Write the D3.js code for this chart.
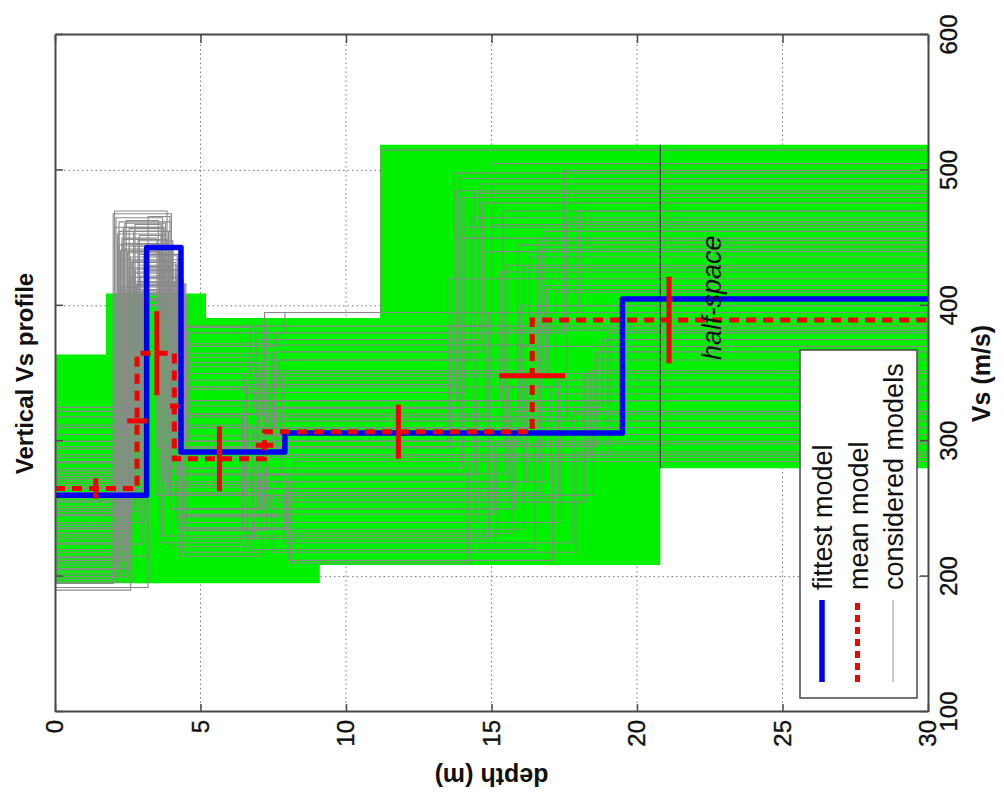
<!DOCTYPE html>
<html>
<head>
<meta charset="utf-8">
<script src="https://cdn.jsdelivr.net/npm/d3@7"></script>
<style>
  body { margin: 0; background: #fff; }
  svg { display: block; }
</style>
</head>
<body>
<svg id="chart" width="1004" height="794"></svg>
<script>
// ---- data -------------------------------------------------------------
const vsTicks = [100, 200, 300, 400, 500, 600];
const depthTicks = [0, 5, 10, 15, 20, 25, 30];

// best-fitting model: interface depths (m) and layer shear velocities (m/s)
const fittestInterfaces = [3.15, 4.33, 7.9, 19.5];
const fittestVs = [260, 443, 292, 306, 405];

// mean model
const meanInterfaces = [2.82, 4.1, 7.2, 16.4];
const meanVs = [265, 365, 287, 307, 389.5];

// uncertainty of the mean model
const vsErrDepth = [1.4, 3.5, 5.65, 11.8, 21.1];   // depth where each Vs bar is drawn
const vsErrHalf = [7.5, 31, 24, 20, 32];           // +/- Vs
const depthErrHalf = [0.34, 0.15, 0.3, 1.13];      // +/- depth of each interface

// range explored by the inversion (shaded band)
const envelopeTopDepth = [0, 1.75, 5.19, 11.17, 30];
const envelopeTopVs = [364, 409, 391, 519];
const envelopeBottomDepth = [0, 9.1, 20.8, 30];
const envelopeBottomVs = [195, 208.5, 280];

const halfSpaceDepth = 20.8;

// considered models: interface depths and layer velocities
const consideredInterfaces = [
  [2.0, 4.0, 7.2, 14.0], [2.2, 4.0, 6.8, 15.5], [2.5, 3.6, 7.5, 16.0], [2.7, 3.9, 6.5, 13.8],
  [2.9, 4.2, 7.8, 17.0], [3.1, 4.4, 8.0, 18.5], [2.4, 3.8, 7.0, 15.0], [2.8, 4.5, 7.3, 14.5],
  [2.1, 3.7, 6.7, 16.5], [3.0, 4.1, 7.6, 17.5], [2.6, 4.3, 7.1, 13.5], [3.2, 4.6, 6.9, 16.2],
  [2.3, 3.5, 7.4, 15.8], [2.75, 4.0, 7.9, 18.0], [2.9, 4.25, 6.6, 14.8], [2.45, 3.9, 7.7, 16.8],
  [3.05, 4.45, 7.2, 11.2], [2.2, 3.6, 6.4, 15.2], [2.65, 4.15, 7.35, 17.2], [2.35, 3.75, 8.1, 14.2],
  [3.15, 4.35, 7.0, 19.0], [2.55, 3.95, 7.55, 16.4], [2.85, 4.05, 6.75, 15.6], [2.05, 3.85, 7.15, 13.9],
  [3.0, 4.5, 7.85, 17.8], [2.6, 3.7, 6.95, 14.6], [2.95, 4.2, 7.45, 16.0], [2.3, 4.4, 7.65, 18.2],
  [2.75, 3.65, 6.6, 15.3], [3.1, 4.3, 8.2, 16.6], [2.4, 4.05, 7.25, 14.3], [2.7, 4.55, 6.85, 17.4],
  [3.2, 3.95, 7.0, 15.9], [2.15, 4.25, 7.8, 16.9], [2.9, 3.8, 7.5, 13.6], [2.5, 4.1, 6.55, 17.0],
  [2.2, 4.0, 7.05, 14.4], [2.9, 4.35, 6.45, 16.1], [2.55, 3.6, 7.6, 18.8], [3.05, 4.2, 6.9, 15.0],
  [2.3, 3.9, 7.3, 15.4], [2.6, 4.2, 7.9, 16.7], [2.05, 3.7, 6.8, 14.9], [2.8, 4.45, 7.15, 17.6],
  [3.1, 4.0, 6.6, 13.7], [2.45, 3.55, 7.7, 18.4], [2.95, 4.3, 7.4, 16.3], [2.35, 3.85, 6.95, 15.1],
  [2.7, 4.15, 8.05, 17.1], [3.15, 4.5, 7.55, 14.7], [2.5, 3.75, 6.7, 16.9], [2.85, 4.35, 7.25, 18.6],
  [2.15, 3.65, 7.95, 15.7], [2.65, 4.05, 6.5, 14.1], [3.0, 4.4, 7.1, 17.3], [2.4, 3.8, 7.8, 16.1],
  [2.75, 4.25, 6.85, 13.9], [2.25, 3.95, 7.45, 17.9], [3.05, 4.55, 7.65, 15.5], [2.55, 3.7, 6.75, 16.6]
];
const consideredVs = [
  [195, 468, 250, 280, 480], [210, 462, 300, 310, 430], [230, 440, 330, 300, 400], [250, 455, 260, 330, 485],
  [270, 430, 350, 290, 390], [240, 420, 240, 260, 360], [220, 412, 280, 350, 460], [300, 416, 320, 240, 330],
  [205, 465, 230, 220, 300], [325, 395, 370, 380, 500], [190, 405, 215, 300, 420], [215, 380, 300, 270, 350],
  [235, 450, 260, 250, 310], [255, 425, 380, 395, 470], [280, 438, 290, 320, 440], [200, 410, 340, 360, 455],
  [265, 400, 300, 395, 515], [245, 445, 225, 230, 290], [260, 432, 310, 340, 410], [225, 458, 270, 210, 285],
  [285, 418, 250, 290, 380], [208, 428, 355, 310, 395], [240, 448, 280, 265, 340], [198, 470, 320, 345, 450],
  [310, 408, 235, 225, 320], [228, 436, 295, 375, 490], [272, 422, 365, 300, 370], [218, 414, 245, 255, 350],
  [252, 460, 340, 330, 425], [290, 426, 260, 285, 400], [212, 442, 385, 360, 465], [262, 404, 228, 240, 305],
  [192, 466, 310, 315, 445], [238, 434, 275, 350, 415], [278, 452, 330, 295, 385], [246, 418, 300, 270, 335],
  [232, 455, 250, 275, 483], [268, 412, 318, 235, 315], [206, 444, 288, 325, 375], [258, 437, 345, 385, 505],
  [300, 446, 268, 305, 470], [318, 421, 236, 262, 442], [284, 458, 312, 228, 395], [294, 415, 358, 318, 462],
  [276, 429, 222, 342, 498], [305, 463, 296, 288, 352], [322, 409, 372, 371, 436], [196, 449, 262, 246, 298],
  [232, 424, 244, 212, 288], [288, 405, 326, 366, 476], [214, 439, 384, 352, 412], [248, 417, 234, 296, 366],
  [266, 453, 276, 232, 322], [312, 433, 350, 336, 458], [224, 411, 218, 258, 345], [256, 461, 304, 306, 428],
  [296, 427, 338, 324, 494], [202, 441, 266, 218, 292], [274, 401, 246, 276, 382], [236, 457, 362, 348, 448]
];

const legendLabels = ["fittest model", "mean model", "considered models"];

// ---- layout -----------------------------------------------------------
// The profile is drawn with Vs horizontal and depth downward, then the
// whole panel is turned a quarter turn counter-clockwise.
const W = 677, H = 873;
const FONT = "'Liberation Sans', Arial, Helvetica, sans-serif";

const svg = d3.select("#chart");
const g = svg.append("g").attr("transform", "translate(55,712) rotate(-90)");

const x = d3.scaleLinear().domain([100, 600]).range([0, W]);
const y = d3.scaleLinear().domain([0, 30]).range([0, H]);

// stairs path for a layered model
function stairs(interfaces, vs) {
  const pts = [[vs[0], 0]];
  interfaces.forEach((z, i) => { pts.push([vs[i], z]); pts.push([vs[i + 1], z]); });
  pts.push([vs[vs.length - 1], 30]);
  return d3.line().x(d => x(d[0])).y(d => y(d[1]))(pts);
}

// grid
const grid = g.append("g").attr("stroke", "#7a7a7a").attr("stroke-width", 1)
  .attr("stroke-dasharray", "1.5,3");
vsTicks.slice(1, -1).forEach(v => grid.append("line")
  .attr("x1", x(v)).attr("x2", x(v)).attr("y1", 0).attr("y2", H));
depthTicks.slice(1, -1).forEach(d => grid.append("line")
  .attr("x1", 0).attr("x2", W).attr("y1", y(d)).attr("y2", y(d)));

// explored range (green band)
const envPts = [];
envelopeTopVs.forEach((v, i) => {
  envPts.push([v, envelopeTopDepth[i]]);
  envPts.push([v, envelopeTopDepth[i + 1]]);
});
for (let i = envelopeBottomVs.length - 1; i >= 0; i--) {
  envPts.push([envelopeBottomVs[i], envelopeBottomDepth[i + 1]]);
  envPts.push([envelopeBottomVs[i], envelopeBottomDepth[i]]);
}
g.append("path")
  .attr("d", d3.line().x(d => x(d[0])).y(d => y(d[1]))(envPts) + "Z")
  .attr("fill", "#00f000").attr("stroke", "none");

// considered models
g.append("g").selectAll("path")
  .data(consideredInterfaces)
  .join("path")
  .attr("d", (zs, i) => stairs(zs, consideredVs[i]))
  .attr("fill", "none").attr("stroke", "#8a8a8a").attr("stroke-width", 1.1);

// half-space boundary
g.append("line")
  .attr("x1", x(envelopeBottomVs[envelopeBottomVs.length - 1]))
  .attr("x2", x(envelopeTopVs[envelopeTopVs.length - 1]))
  .attr("y1", y(halfSpaceDepth)).attr("y2", y(halfSpaceDepth))
  .attr("stroke", "#1a1a1a").attr("stroke-width", 1);

// fittest model
g.append("path").attr("d", stairs(fittestInterfaces, fittestVs))
  .attr("fill", "none").attr("stroke", "#0000f0").attr("stroke-width", 5.5)
  .attr("stroke-linejoin", "round");

// mean model
g.append("path").attr("d", stairs(meanInterfaces, meanVs))
  .attr("fill", "none").attr("stroke", "#f00000").attr("stroke-width", 5)
  .attr("stroke-dasharray", "10,7");

// error bars of the mean model
const eb = g.append("g").attr("stroke", "#f00000").attr("stroke-width", 5);
meanVs.forEach((v, i) => {
  eb.append("line")
    .attr("x1", x(v - vsErrHalf[i])).attr("x2", x(v + vsErrHalf[i]))
    .attr("y1", y(vsErrDepth[i])).attr("y2", y(vsErrDepth[i]));
});
meanInterfaces.forEach((z, i) => {
  const vm = (meanVs[i] + meanVs[i + 1]) / 2;
  eb.append("line")
    .attr("x1", x(vm)).attr("x2", x(vm))
    .attr("y1", y(z - depthErrHalf[i])).attr("y2", y(z + depthErrHalf[i]));
});

g.append("text")
  .attr("x", x(360)).attr("y", y(22.9))
  .attr("font-family", FONT).attr("font-size", 27).attr("font-style", "italic")
  .attr("fill", "#111")
  .text("half-space");

// axes and box
const axisColor = "#4a4a4a";
function styleAxis(sel, fontSize) {
  sel.select(".domain").attr("stroke", axisColor).attr("stroke-width", 2);
  sel.selectAll(".tick line").attr("stroke", axisColor).attr("stroke-width", 1.5);
  sel.selectAll(".tick text").attr("font-family", FONT).attr("font-size", fontSize)
    .attr("fill", "#111").attr("stroke", "#111").attr("stroke-width", 0.4);
}
g.append("g").attr("transform", `translate(0,${H})`)
  .call(d3.axisBottom(x).tickValues(vsTicks).tickSizeInner(-8).tickSizeOuter(0).tickPadding(12))
  .call(s => styleAxis(s, 24));
g.append("g")
  .call(d3.axisTop(x).tickValues(vsTicks).tickSizeInner(-8).tickSizeOuter(0).tickFormat(""))
  .call(s => styleAxis(s, 24));
g.append("g")
  .call(d3.axisLeft(y).tickValues(depthTicks).tickSizeInner(-8).tickSizeOuter(0).tickPadding(8))
  .call(s => styleAxis(s, 24));
g.append("g").attr("transform", `translate(${W},0)`)
  .call(d3.axisRight(y).tickValues(depthTicks).tickSizeInner(-8).tickSizeOuter(0).tickFormat(""))
  .call(s => styleAxis(s, 24));

// titles
g.append("text")
  .attr("x", W / 2).attr("y", -22).attr("text-anchor", "middle")
  .attr("font-family", FONT).attr("font-size", 24).attr("font-weight", "bold").attr("fill", "#111")
  .text("Vertical Vs profile");
g.append("text")
  .attr("x", W / 2).attr("y", H + 62).attr("text-anchor", "middle")
  .attr("font-family", FONT).attr("font-size", 25).attr("font-weight", "bold").attr("fill", "#111")
  .text("Vs (m/s)");
g.append("text")
  .attr("transform", `translate(-56,${H / 2}) rotate(-90)`).attr("text-anchor", "middle")
  .attr("font-family", FONT).attr("font-size", 25).attr("font-weight", "bold").attr("fill", "#111")
  .text("depth (m)");

// legend
const lg = g.append("g").attr("transform", "translate(14,745)");
lg.append("rect").attr("width", 348).attr("height", 117)
  .attr("fill", "#fff").attr("stroke", axisColor).attr("stroke-width", 1.5);
const legendStyles = [
  { stroke: "#0000f0", width: 5.5, dash: null },
  { stroke: "#f00000", width: 5, dash: "7,5" },
  { stroke: "#a8a8a8", width: 1.2, dash: null }
];
legendLabels.forEach((lab, i) => {
  const cy = 22 + i * 35.5;
  const st = legendStyles[i];
  lg.append("line").attr("x1", 16).attr("x2", 98).attr("y1", cy).attr("y2", cy)
    .attr("stroke", st.stroke).attr("stroke-width", st.width)
    .attr("stroke-dasharray", st.dash);
  lg.append("text").attr("x", 108).attr("y", cy + 10)
    .attr("font-family", FONT).attr("font-size", 27).attr("fill", "#111")
    .text(lab);
});
</script>
</body>
</html>
